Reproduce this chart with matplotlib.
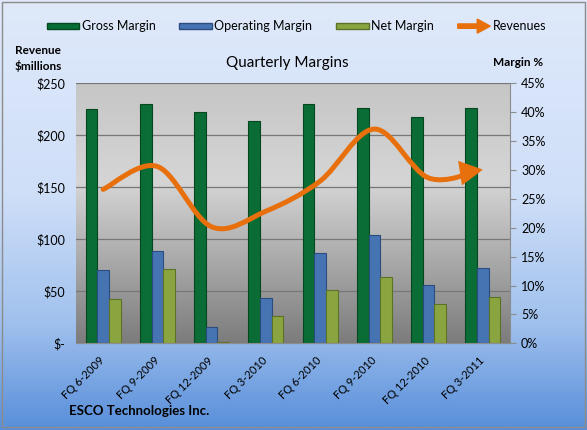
import numpy as np
import matplotlib
matplotlib.use("Agg")
import matplotlib.pyplot as plt
import matplotlib.patches as mpatches
from matplotlib.path import Path
from matplotlib.legend_handler import HandlerPatch

plt.rcParams['font.family'] = ['Lato', 'DejaVu Sans']

quarters = ['FQ 6-2009', 'FQ 9-2009', 'FQ 12-2009', 'FQ 3-2010',
            'FQ 6-2010', 'FQ 9-2010', 'FQ 12-2010', 'FQ 3-2011']
gross_margin = [40.5, 41.4, 40.1, 38.5, 41.5, 40.8, 39.1, 40.8]
operating_margin = [12.7, 16.0, 2.8, 7.8, 15.7, 18.7, 10.1, 13.1]
net_margin = [7.7, 12.9, 0.3, 4.7, 9.2, 11.5, 6.8, 8.0]
revenues = [148, 170, 112, 127, 156, 206, 159, 167]

rev_ticks = [0, 50, 100, 150, 200, 250]
rev_labels = ['$-', '$50', '$100', '$150', '$200', '$250']
pct_ticks = [0, 5, 10, 15, 20, 25, 30, 35, 40, 45]

c_gross, e_gross = '#0a6d35', '#05471f'
c_op, e_op = '#4674b2', '#2a4c7e'
c_net, e_net = '#8aa540', '#5c7226'
c_rev = '#e8700c'


def gradient(stops, n=256):
    pos = [s[0] for s in stops]
    t = np.linspace(0, 1, n)
    rows = np.stack([np.interp(t, pos, [s[1][k] / 255 for s in stops]) for k in range(3)], axis=1)
    return rows[:, None, :]


fig = plt.figure(figsize=(5.87, 4.30), dpi=100)

# figure background
bg = fig.add_axes([0, 0, 1, 1], zorder=-10)
bg.imshow(gradient([(0, (223, 233, 250)), (0.45, (207, 223, 248)),
                    (0.75, (160, 193, 237)), (1.0, (88, 142, 218))]),
          extent=(0, 1, 0, 1), aspect='auto', transform=bg.transAxes)
bg.set_xlim(0, 1)
bg.set_ylim(0, 1)
bg.axis('off')
bg.add_patch(mpatches.Rectangle((0.004, 0.006), 0.992, 0.99, fill=False,
                                edgecolor='#8c8c8c', lw=1.0, transform=bg.transAxes))

rect = [76 / 587, 1 - 343.3 / 430, (510 - 76) / 587, (343.3 - 83.3) / 430]
ax2 = fig.add_axes(rect)
ax = ax2.twinx()
ax.yaxis.tick_left()
ax2.yaxis.tick_right()
ax.set_zorder(ax2.get_zorder() + 1)
ax.patch.set_visible(False)

n = len(quarters)
x = np.arange(n)
w = 0.215

ax2.imshow(gradient([(0, (198, 198, 198)), (0.38, (213, 213, 213)), (1.0, (124, 124, 124))]),
           extent=(0, 1, 0, 1), aspect='auto', transform=ax2.transAxes, zorder=0)

ax2.bar(x - w, gross_margin, w, color=c_gross, edgecolor=e_gross, lw=0.8, zorder=3)
ax2.bar(x, operating_margin, w, color=c_op, edgecolor=e_op, lw=0.8, zorder=3)
ax2.bar(x + w, net_margin, w, color=c_net, edgecolor=e_net, lw=0.8, zorder=3)

ax2.set_xlim(-0.5, n - 0.5)
ax2.set_ylim(0, 45)
ax2.set_yticks(pct_ticks)
ax2.set_yticklabels(['%d%%' % p for p in pct_ticks], fontsize=9)
ax2.tick_params(axis='y', direction='out', length=4, color='#8c8c8c', pad=4)

ax.set_ylim(0, 250)
ax.set_yticks(rev_ticks)
ax.set_yticklabels(rev_labels, fontsize=9)
ax.tick_params(axis='y', length=0, pad=8)
for t in rev_ticks[1:]:
    ax2.axhline(t * 45 / 250, color='#777777', lw=0.9, zorder=1)

# smooth revenue line (Catmull-Rom bezier through the data points)
pts = np.column_stack([x, revenues]).astype(float)
ext = np.vstack([pts[0], pts, pts[-1]])
verts = [pts[0]]
codes = [Path.MOVETO]
for i in range(n - 1):
    p0, p1, p2, p3 = ext[i], ext[i + 1], ext[i + 2], ext[i + 3]
    verts += [p1 + (p2 - p0) / 6, p2 - (p3 - p1) / 6, p2]
    codes += [Path.CURVE4] * 3
arrow = mpatches.FancyArrowPatch(path=Path(verts, codes), arrowstyle='-|>,head_length=1.3,head_width=0.7',
                                 mutation_scale=8.5, color=c_rev, lw=3.6, zorder=5,
                                 joinstyle='miter', transform=ax.transData)
ax.add_patch(arrow)

ax2.set_xticks(x)
ax2.set_xticklabels(quarters, rotation=45, ha='right', va='center',
                    rotation_mode='anchor', fontsize=8)
ax2.tick_params(axis='x', length=0, pad=11)

for a in (ax, ax2):
    a.spines['top'].set_visible(False)
    a.spines['left'].set_visible(False)
    a.spines['right'].set_visible(False)
    a.spines['bottom'].set_color('#8c8c8c')
ax2.spines['right'].set_visible(True)
ax2.spines['right'].set_color('#8c8c8c')


def make_arrow(legend, orig_handle, xdescent, ydescent, width, height, fontsize):
    return mpatches.FancyArrow(0, height / 2, width, 0, width=height * 0.5,
                               head_width=height * 1.6, head_length=width * 0.4,
                               length_includes_head=True, color=c_rev, lw=0)


def make_swatch(legend, orig_handle, xdescent, ydescent, width, height, fontsize):
    return mpatches.Rectangle((0, height * 0.15), width, height * 0.7)


handles = [mpatches.Patch(facecolor=c_gross, edgecolor=e_gross, label='Gross Margin'),
           mpatches.Patch(facecolor=c_op, edgecolor=e_op, label='Operating Margin'),
           mpatches.Patch(facecolor=c_net, edgecolor=e_net, label='Net Margin'),
           mpatches.FancyArrow(0, 0, 1, 0, color=c_rev, label='Revenues')]
fig.legend(handles=handles, loc='center', bbox_to_anchor=(296.5 / 587, 1 - 26.5 / 430), ncol=4,
           frameon=False, fontsize=9, handlelength=2.6, handleheight=0.7,
           handletextpad=0.2, columnspacing=1.9,
           handler_map={mpatches.FancyArrow: HandlerPatch(patch_func=make_arrow),
                        mpatches.Patch: HandlerPatch(patch_func=make_swatch)})

fig.text(287 / 587, 1 - 63 / 430, 'Quarterly Margins', ha='center', va='center', fontsize=11)
fig.text(38 / 587, 1 - 58 / 430, 'Revenue\n$millions', ha='center', va='center',
         fontsize=8.5, fontweight='bold', linespacing=1.4)
fig.text(518 / 587, 1 - 63 / 430, 'Margin %', ha='center', va='center',
         fontsize=8.5, fontweight='bold')
fig.text(69 / 587, 1 - 411 / 430, 'ESCO Technologies Inc.', ha='left', va='center',
         fontsize=9.5, fontweight='bold')

fig.savefig('out.png', dpi=100)
